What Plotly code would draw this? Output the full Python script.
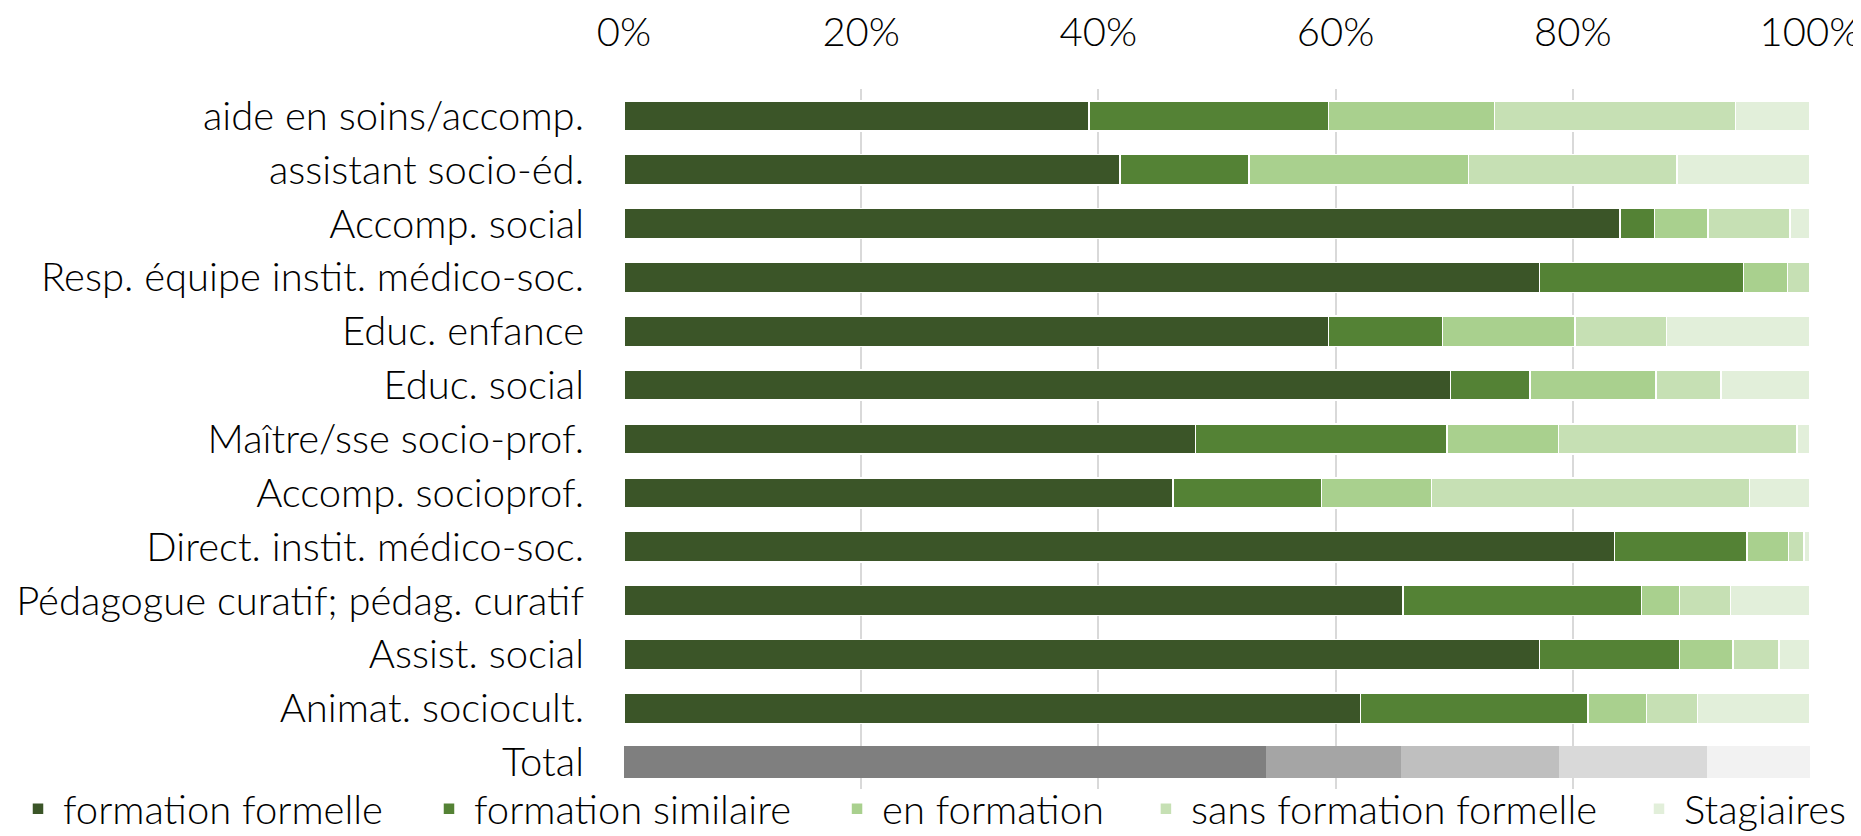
import plotly.graph_objects as go

categories = ["aide en soins/accomp.", "assistant socio-éd.", "Accomp. social",
              "Resp. équipe instit. médico-soc.", "Educ. enfance", "Educ. social",
              "Maître/sse socio-prof.", "Accomp. socioprof.", "Direct. instit. médico-soc.",
              "Pédagogue curatif; pédag. curatif", "Assist. social", "Animat. sociocult."]
series_names = ["formation formelle", "formation similaire", "en formation",
                "sans formation formelle", "Stagiaires"]
formation_formelle = [39.2, 41.8, 84.0, 77.2, 59.4, 69.7, 48.2, 46.3, 83.5, 65.7, 77.2, 62.1]
formation_similaire = [20.2, 10.9, 2.9, 17.2, 9.6, 6.7, 21.2, 12.5, 11.2, 20.1, 11.8, 19.2]
en_formation = [14.0, 18.5, 4.5, 3.7, 11.2, 10.6, 9.4, 9.3, 3.5, 3.2, 4.5, 4.9]
sans_formation_formelle = [20.3, 17.6, 6.9, 1.9, 7.7, 5.5, 20.1, 26.8, 1.3, 4.3, 3.9, 4.3]
stagiaires = [6.3, 11.2, 1.7, 0.0, 12.1, 7.5, 1.1, 5.1, 0.5, 6.7, 2.6, 9.5]
total_label = "Total"
total_values = [54.1, 11.4, 13.3, 12.5, 8.7]
tick_values = [0, 20, 40, 60, 80, 100]
tick_labels = ["0%", "20%", "40%", "60%", "80%", "100%"]

green_colors = ["#3b5528", "#548235", "#a9d08e", "#c6e0b4", "#e2efda"]
grey_colors = ["#7f7f7f", "#a5a5a5", "#bfbfbf", "#d9d9d9", "#f2f2f2"]

series_values = [formation_formelle, formation_similaire, en_formation,
                 sans_formation_formelle, stagiaires]

# horizontal position of each legend entry (fraction of figure width)
legend_x = [0.0027, 0.2245, 0.4447, 0.6114, 0.8775]
legend_ids = ["legend", "legend2", "legend3", "legend4", "legend5"]

FONT = "Lato"
FS = 40
W, H = 1853, 828

fig = go.Figure()
for name, vals, col, lid in zip(series_names, series_values, green_colors, legend_ids):
    fig.add_trace(go.Bar(
        y=categories, x=vals, name=name, orientation="h",
        marker=dict(color=col, line=dict(color="white", width=1.5)),
        width=0.56, legend=lid,
    ))
for name, val, col in zip(series_names, total_values, grey_colors):
    fig.add_trace(go.Bar(
        y=[total_label], x=[val], name=name, orientation="h",
        marker=dict(color=col, line=dict(width=0)),
        width=0.6, showlegend=False,
    ))

legend_font = dict(family=FONT, size=FS, color="#000000", weight=300)
legends = {}
for lid, lx in zip(legend_ids, legend_x):
    legends[lid] = dict(
        orientation="h", xref="container", yref="container",
        x=lx, y=0.033, xanchor="left", yanchor="middle",
        font=legend_font, itemwidth=40, bgcolor="rgba(0,0,0,0)",
    )

fig.update_layout(
    barmode="stack",
    width=W, height=H,
    margin=dict(l=616, r=51, t=81, b=47, autoexpand=False),
    plot_bgcolor="white", paper_bgcolor="white",
    font=dict(family=FONT, size=FS, color="#000000", weight=300),
    xaxis=dict(
        side="top", range=[0, 100], tickvals=tick_values, ticktext=tick_labels,
        showgrid=True, gridcolor="#d9d9d9", gridwidth=1.5,
        zeroline=False, showline=False, ticks="", ticklabelstandoff=34,
    ),
    yaxis=dict(
        categoryorder="array", categoryarray=categories + [total_label],
        range=[len(categories) + 0.5, -0.5],
        showgrid=False, zeroline=False, showline=False, ticks="",
        ticklabelstandoff=39,
    ),
    showlegend=True,
    **legends,
)

fig.write_html("out.html")
